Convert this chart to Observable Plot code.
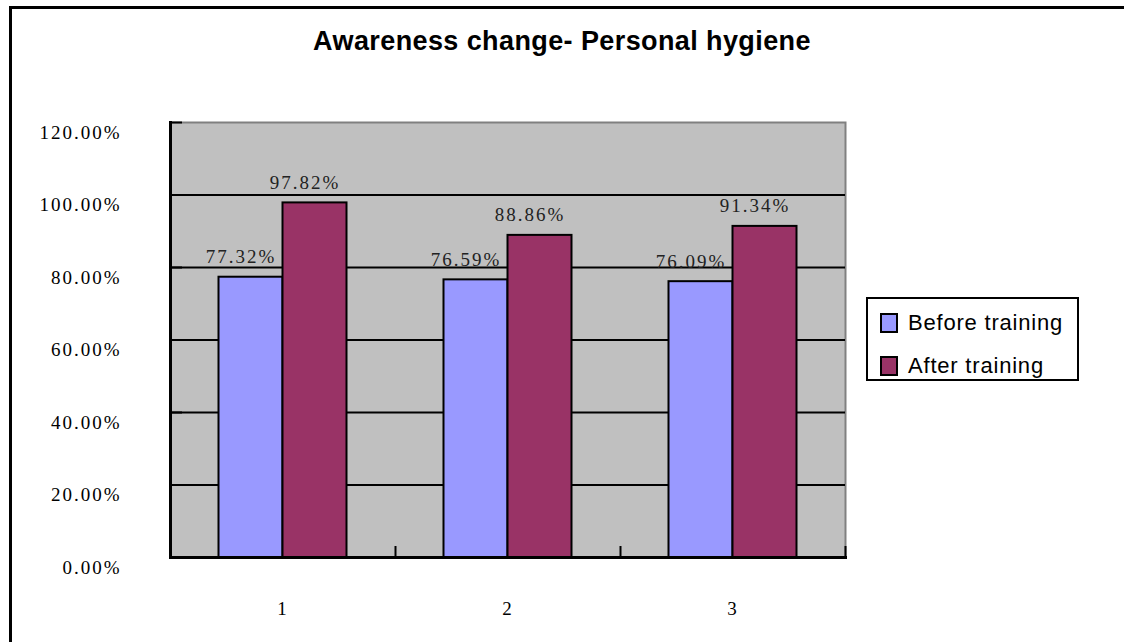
<!DOCTYPE html>
<html>
<head>
<meta charset="utf-8">
<script src="https://cdn.jsdelivr.net/npm/d3@7"></script>
<script src="https://cdn.jsdelivr.net/npm/@observablehq/plot@0.6"></script>
<style>
  html, body { margin: 0; padding: 0; background: #fff; }
  #chart { position: relative; width: 1124px; height: 642px; overflow: hidden; }
  #border { position: absolute; left: 9px; top: 6px; width: 1200px; height: 700px;
            border-top: 3px solid #000; border-left: 3px solid #000; pointer-events: none; }
  #title { height: 70px; box-sizing: border-box; padding-top: 25px; text-align: center;
           font-family: "Liberation Sans", Arial, sans-serif; font-weight: bold; font-size: 27px;
           letter-spacing: 0.4px; line-height: 32px; color: #000; }
  #plot svg text { letter-spacing: 2px; }
  #legend { position: absolute; left: 866px; top: 297px; width: 213px; height: 84px; box-sizing: border-box;
            border: 2px solid #000; background: #fff; font-family: "Liberation Sans", Arial, sans-serif;
            font-size: 22px; letter-spacing: 0.8px; color: #000; }
  .item { position: absolute; left: 12px; height: 24px; display: flex; align-items: center; white-space: nowrap; }
  .sw { width: 14px; height: 16px; border: 2px solid #000; margin-right: 10px; }
</style>
</head>
<body>
<div id="chart">
  <div id="title"></div>
  <div id="plot"></div>
  <div id="legend"></div>
  <div id="border"></div>
</div>
<script>
const title = "Awareness change- Personal hygiene";
const categories = [1, 2, 3];
const series = ["Before training", "After training"];
const before = [77.32, 76.59, 76.09];
const after = [97.82, 88.86, 91.34];
const yTicks = [0, 20, 40, 60, 80, 100, 120];
const gridTicks = [20, 40, 60, 80, 100];
const colors = ["#9999ff", "#993366"];

const barWidth = 64 / 225; // in category units
const rows = [];
categories.forEach((c, i) => {
  rows.push({cat: c, series: series[0], value: before[i], x1: c - barWidth, x2: c});
  rows.push({cat: c, series: series[1], value: after[i], x1: c, x2: c + barWidth});
});
const boundaries = categories.map(c => c + 0.5);

document.getElementById("title").textContent = title;

const chart = Plot.plot({
  width: 1124,
  height: 572,
  marginLeft: 170,
  marginRight: 279,
  marginTop: 52,
  marginBottom: 85,
  style: {fontFamily: "'Liberation Serif', 'DejaVu Serif', serif", fontSize: "19px", color: "#000", background: "transparent"},
  x: {domain: [0.5, 3.5], axis: null},
  y: {domain: [0, 120], axis: null},
  color: {domain: series, range: colors},
  marks: [
    Plot.frame({fill: "#c0c0c0", stroke: "#808080", strokeWidth: 2}),
    Plot.ruleY(gridTicks, {stroke: "#000", strokeWidth: 2}),
    Plot.rectY(rows, {x1: "x1", x2: "x2", y: "value", fill: "series", stroke: "#000", strokeWidth: 2}),
    Plot.frame({anchor: "left", stroke: "#000", strokeWidth: 3}),
    Plot.frame({anchor: "bottom", stroke: "#000", strokeWidth: 3}),
    Plot.axisY({ticks: yTicks, tickSize: -12, text: null, label: null, stroke: "#000", strokeWidth: 2}),
    Plot.axisY({ticks: yTicks, tickSize: 0, tickPadding: 49, dy: 10, label: null, tickFormat: d => d.toFixed(2) + "%", fill: "#000"}),
    Plot.axisX({ticks: boundaries, tickSize: -11, text: null, label: null, stroke: "#000", strokeWidth: 2}),
    Plot.axisX({ticks: categories, tickSize: 0, tickPadding: 44, label: null, tickFormat: d => String(d), fill: "#000"}),
    Plot.text(rows, {x: d => (d.x1 + d.x2) / 2, y: "value", text: d => d.value.toFixed(2) + "%", dy: -20, dx: -10, fill: "#222"})
  ]
});
document.getElementById("plot").appendChild(chart);

const legend = document.getElementById("legend");
series.forEach((s, i) => {
  const item = document.createElement("div");
  item.className = "item";
  item.style.top = (12 + i * 43) + "px";
  const sw = document.createElement("div");
  sw.className = "sw";
  sw.style.background = colors[i];
  const label = document.createElement("span");
  label.textContent = s;
  item.appendChild(sw);
  item.appendChild(label);
  legend.appendChild(item);
});
</script>
</body>
</html>
